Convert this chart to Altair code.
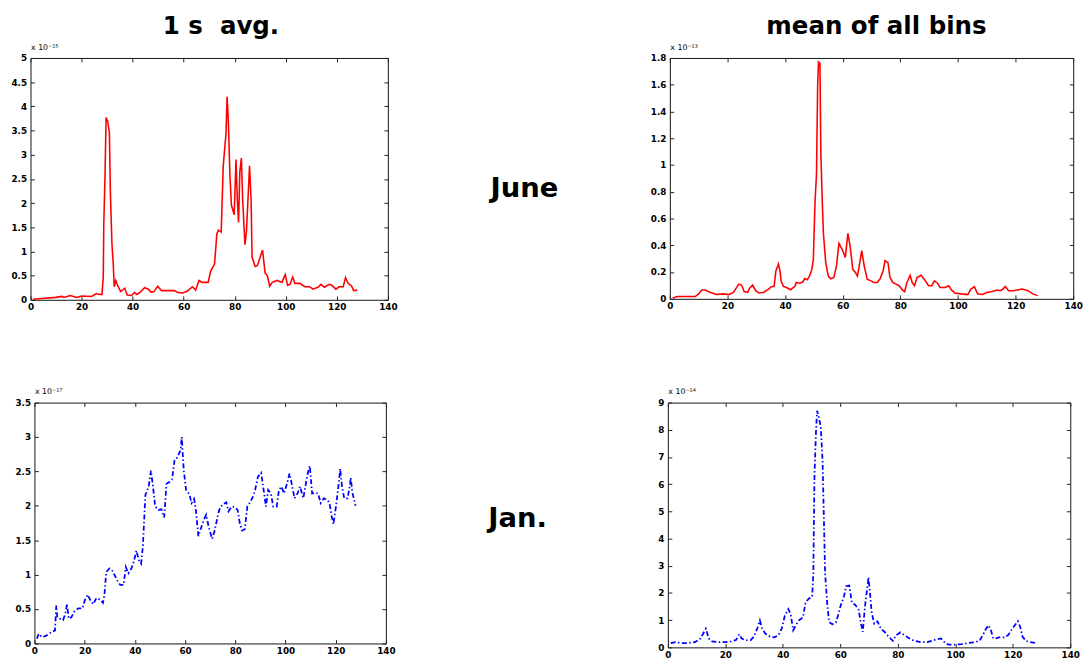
import altair as alt
import pandas as pd

FONT = "DejaVu Sans"

# ---------------- data (values in units of the axis exponent) ----------------
june_1s_x = [1, 9.8, 12.4, 13, 15.6, 18.1, 20, 23.9, 25.8, 27, 28, 28.5, 28.7, 29.2, 29.6, 30.2, 30.9, 31.3,
             31.9, 32.4, 32.8, 33.4, 34.1, 35.3, 36.9, 37.9, 39.6, 40.7, 41.7, 43, 44.7, 46.2, 47.2, 48.4,
             49.8, 51.3, 53.2, 56.4, 57.7, 59.6, 61.5, 63.4, 64.7, 66, 67.3, 69.6, 70.6, 72.1, 73, 73.6,
             74.7, 75.5, 76.6, 77, 77.5, 78.1, 78.7, 79.8, 80.5, 81, 81.5, 82, 82.6, 83.1, 83.6, 84, 84.6,
             85.4, 85.8, 86.4, 86.8, 88, 88.9, 90.9, 91.9, 92.8, 93.7, 94.7, 96.6, 98.5, 99.8, 100.7,
             101.7, 102.7, 103.6, 105.5, 107.5, 109.4, 110.6, 112.6, 113.8, 115.1, 117, 118, 119.6, 120.9,
             122.5, 123.4, 124.4, 125.7, 126.6, 128]
june_1s_y = [0.01, 0.05, 0.07, 0.05, 0.09, 0.05, 0.08, 0.07, 0.13, 0.11, 0.11, 0.47, 1.55, 2.6, 3.77, 3.7,
             3.45, 2.2, 1.15, 0.75, 0.27, 0.4, 0.3, 0.17, 0.24, 0.1, 0.09, 0.15, 0.11, 0.16, 0.25, 0.22,
             0.16, 0.17, 0.28, 0.19, 0.19, 0.19, 0.15, 0.14, 0.18, 0.27, 0.2, 0.4, 0.36, 0.36, 0.6, 0.74,
             1.36, 1.44, 1.4, 2.77, 3.45, 4.2, 3.7, 2.6, 1.96, 1.76, 2.9, 2.1, 1.6, 2.64, 2.93, 2.1, 1.55,
             1.14, 1.42, 2.3, 2.77, 2.1, 0.88, 0.69, 0.71, 1.03, 0.55, 0.5, 0.28, 0.36, 0.4, 0.36, 0.52,
             0.3, 0.32, 0.47, 0.34, 0.34, 0.27, 0.27, 0.22, 0.26, 0.32, 0.26, 0.32, 0.3, 0.22, 0.27, 0.27,
             0.46, 0.34, 0.29, 0.19, 0.2]

june_mean_x = [1, 2.6, 8.8, 10, 11.1, 12.2, 13.9, 16.2, 18.5, 20.7, 22.1, 23.2, 23.9, 24.9, 25.8, 27, 27.7,
               28.7, 29.8, 30.9, 32.6, 34.3, 35.2, 36.2, 36.8, 37.7, 38.3, 38.6, 39.4, 40.5, 41.9, 43.4,
               43.9, 45.1, 46.2, 46.8, 47.7, 48.5, 49.3, 49.8, 50.4, 50.9, 51.3, 51.6, 52.1, 52.4, 52.9,
               53.3, 54.1, 55, 55.8, 56.9, 57.8, 58.7, 59.8, 60.9, 61.8, 62.6, 63.5, 64.3, 65.1, 65.7,
               66.6, 67.5, 68.5, 69.8, 70.9, 72, 73, 74, 74.7, 75.7, 76.4, 77.4, 78.5, 79.6, 80.7, 81.5,
               82.2, 83.4, 84.1, 84.9, 85.8, 87.2, 88.3, 89.8, 90.9, 91.8, 92.9, 93.8, 95.5, 96.8, 97.7,
               98.9, 101.1, 103.4, 104.5, 105.7, 106.8, 108.5, 110.2, 111.9, 113.6, 114.7, 115.6, 116.4,
               117.6, 119.3, 121, 122.3, 124.3, 126, 127.7]
june_mean_y = [0.007, 0.017, 0.017, 0.037, 0.066, 0.066, 0.049, 0.032, 0.037, 0.032, 0.049, 0.085, 0.11,
               0.103, 0.054, 0.049, 0.08, 0.103, 0.061, 0.044, 0.049, 0.073, 0.09, 0.093, 0.208, 0.26,
               0.2, 0.134, 0.093, 0.085, 0.068, 0.093, 0.122, 0.117, 0.127, 0.151, 0.142, 0.171, 0.22,
               0.293, 0.73, 0.93, 1.59, 1.77, 1.76, 1.1, 0.73, 0.49, 0.27, 0.17, 0.15, 0.16, 0.24, 0.415,
               0.37, 0.31, 0.49, 0.39, 0.22, 0.2, 0.17, 0.24, 0.36, 0.24, 0.147, 0.134, 0.122, 0.122,
               0.151, 0.208, 0.286, 0.27, 0.16, 0.122, 0.11, 0.098, 0.066, 0.054, 0.117, 0.176, 0.122,
               0.098, 0.159, 0.176, 0.147, 0.098, 0.098, 0.134, 0.117, 0.085, 0.085, 0.098, 0.068, 0.044,
               0.037, 0.032, 0.073, 0.09, 0.037, 0.032, 0.049, 0.054, 0.066, 0.061, 0.073, 0.093, 0.061,
               0.061, 0.068, 0.073, 0.061, 0.037, 0.024]

jan_1s_x = [1, 1.7, 3, 4.5, 5.8, 7.1, 8.2, 8.7, 9.1, 10.1, 11.4, 12.3, 13, 13.6, 14.7, 16, 17.5, 19.1, 20.1,
            21.2, 22.1, 23.4, 24.7, 26, 27.3, 27.9, 28.6, 29.9, 31.2, 32.9, 34.2, 35.5, 36.4, 37.4, 38.6,
            39.6, 40.6, 41.6, 42.5, 43.2, 44.2, 45.5, 46.4, 47.1, 48.1, 49.4, 50.6, 51.7, 52.6, 53.9, 54.8,
            55.8, 56.5, 57.5, 58.2, 58.7, 59.1, 59.5, 60.4, 61.7, 62.6, 63.6, 64.3, 65.3, 66.2, 67.5, 68.4,
            69.5, 70.8, 71.8, 72.7, 73.6, 74.9, 76.4, 77.3, 78.6, 79.9, 80.9, 81.8, 82.7, 83.8, 84.8, 85.7,
            87, 87.9, 89, 90.3, 91.3, 92.2, 93.1, 94.2, 95.1, 96.5, 97.4, 98.4, 99.4, 100.6, 101.6, 102.6,
            103.6, 104.8, 105.8, 107.1, 108.1, 109.1, 109.7, 110.6, 111.9, 113, 114, 115.3, 116.6, 117.5,
            118.4, 119.1, 120.1, 121.2, 121.8, 122.5, 123.4, 124.7, 125.6, 126, 126.6, 127.9]
jan_1s_y = [0.07, 0.14, 0.09, 0.11, 0.14, 0.17, 0.19, 0.55, 0.38, 0.36, 0.34, 0.43, 0.58, 0.36, 0.38, 0.47,
            0.51, 0.51, 0.63, 0.71, 0.64, 0.57, 0.66, 0.64, 0.59, 0.71, 1.04, 1.09, 1.05, 0.92, 0.85, 0.85,
            1.11, 1.02, 1.09, 1.19, 1.35, 1.21, 1.16, 1.42, 2.16, 2.28, 2.51, 2.32, 1.99, 1.94, 1.95, 1.83,
            2.32, 2.35, 2.38, 2.66, 2.68, 2.75, 2.81, 3.0, 2.73, 2.51, 2.23, 2.17, 2.04, 2.1, 1.94, 1.56,
            1.66, 1.8, 1.87, 1.68, 1.52, 1.64, 1.8, 1.94, 2.02, 2.05, 1.92, 1.99, 1.98, 1.94, 1.75, 1.64,
            1.66, 1.99, 2.04, 2.13, 2.23, 2.42, 2.48, 2.23, 1.99, 2.23, 2.18, 1.99, 1.99, 2.23, 2.28, 2.18,
            2.32, 2.47, 2.3, 2.11, 2.18, 2.28, 2.11, 2.32, 2.51, 2.58, 2.18, 2.19, 2.18, 2.04, 2.11, 2.09,
            2.04, 1.85, 1.73, 1.99, 2.32, 2.54, 2.28, 2.11, 2.11, 2.28, 2.41, 2.2, 2.0]

jan_mean_x = [1, 2.6, 4.9, 7.2, 9.4, 11.1, 12.3, 13.2, 14.2, 15.4, 17.4, 19.7, 22, 23.7, 24.8, 25.6, 27.1,
              28.8, 29.9, 31.3, 32, 32.8, 33.9, 35.6, 37, 38.5, 39.6, 40.7, 41.9, 42.7, 43.6, 44.5, 45.6,
              47, 47.9, 49, 50.2, 50.6, 51, 51.5, 51.9, 52.4, 53.2, 53.8, 54.2, 54.7, 55.5, 56.1, 57.2,
              58.4, 59.2, 60.1, 61.3, 62, 63.1, 64, 65.1, 66.3, 67.2, 67.8, 68.6, 69.3, 69.8, 70.3, 70.9,
              71.8, 72.9, 74.1, 75.4, 76.8, 78.3, 79.4, 80.9, 82.3, 84, 85.7, 87.9, 90.2, 91.9, 93.6, 95,
              96.5, 97.6, 99.9, 102.2, 104.4, 106.7, 108.4, 109.6, 110.7, 111.6, 112.4, 113.2, 114.1,
              115.2, 117, 118.4, 119.8, 120.9, 121.8, 122.6, 123.4, 124.6, 126, 128]
jan_mean_y = [0.16, 0.19, 0.16, 0.16, 0.19, 0.3, 0.51, 0.69, 0.33, 0.22, 0.19, 0.19, 0.22, 0.27, 0.48, 0.33,
              0.26, 0.27, 0.39, 0.75, 0.99, 0.69, 0.51, 0.39, 0.37, 0.45, 0.69, 1.17, 1.41, 1.23, 0.63,
              0.81, 0.99, 1.11, 1.65, 1.79, 1.86, 2.72, 6.31, 7.86, 8.7, 8.52, 8.1, 6.9, 5.11, 2.72, 1.53,
              0.93, 0.85, 0.91, 1.17, 1.53, 1.89, 2.25, 2.27, 1.65, 1.57, 1.41, 0.87, 0.57, 1.53, 2.13,
              2.58, 2.01, 1.29, 0.87, 0.96, 0.69, 0.57, 0.39, 0.24, 0.45, 0.55, 0.45, 0.33, 0.24, 0.19,
              0.19, 0.24, 0.3, 0.33, 0.16, 0.1, 0.1, 0.12, 0.16, 0.19, 0.24, 0.45, 0.69, 0.81, 0.63, 0.33,
              0.33, 0.37, 0.37, 0.45, 0.69, 0.84, 0.96, 0.75, 0.39, 0.24, 0.19, 0.16]

x_ticks = [0, 20, 40, 60, 80, 100, 120, 140]
y_ticks_june_1s = [0, 0.5, 1, 1.5, 2, 2.5, 3, 3.5, 4, 4.5, 5]
y_ticks_june_mean = [0, 0.2, 0.4, 0.6, 0.8, 1, 1.2, 1.4, 1.6, 1.8]
y_ticks_jan_1s = [0, 0.5, 1, 1.5, 2, 2.5, 3, 3.5]
y_ticks_jan_mean = [0, 1, 2, 3, 4, 5, 6, 7, 8, 9]

exp_june_1s = "x 10\u207b\u00b9\u2075"
exp_june_mean = "x 10\u207b\u00b9\u00b3"
exp_jan_1s = "x 10\u207b\u00b9\u2077"
exp_jan_mean = "x 10\u207b\u00b9\u2074"

col_titles = ["1 s\u00a0 avg.", "mean of all bins"]
row_labels = ["June", "Jan."]

RED = "#ff0000"
BLUE = "#0000ff"
Y_EXTENT = 24


def panel(xs, ys, yticks, exp, color, dashed, w, h, title=None, title_dx=0):
    df = pd.DataFrame({"x": xs, "y": ys})
    xsc = alt.Scale(domain=[x_ticks[0], x_ticks[-1]], nice=False, zero=False)
    ysc = alt.Scale(domain=[yticks[0], yticks[-1]], nice=False, zero=False)
    common = dict(tickSize=4, offset=-4, domain=False, grid=False, tickColor="#222",
                  tickWidth=1, labelFont=FONT, labelFontSize=9, labelFontWeight="bold",
                  labelColor="black", labelFlush=False)
    x_bottom = alt.Axis(values=x_ticks, orient="bottom", labelPadding=3, title=None,
                        labelOverlap=False, **common)
    y_left = alt.Axis(values=yticks, orient="left", labelPadding=4, title=exp, format="~g",
                      titleAngle=0, titleAlign="left", titleBaseline="bottom",
                      titleX=-4, titleY=-7, titleFont=FONT, titleFontSize=8,
                      titleFontWeight="normal", titleColor="black", minExtent=Y_EXTENT,
                      labelOverlap=False, **common)
    x_top = alt.Axis(values=x_ticks, orient="top", labels=False, title=None, **common)
    y_right = alt.Axis(values=yticks, orient="right", labels=False, title=None, **common)

    frame = alt.Chart(df).mark_line(strokeOpacity=0).encode(
        x=alt.X("x:Q", scale=xsc, axis=x_top),
        y=alt.Y("y:Q", scale=ysc, axis=y_right),
    )
    mk = dict(color=color, strokeWidth=1.6 if not dashed else 1.8)
    if dashed:
        mk["strokeDash"] = [5, 2.5, 1.5, 2.5]
    line = alt.Chart(df).mark_line(**mk).encode(
        x=alt.X("x:Q", scale=xsc, axis=x_bottom),
        y=alt.Y("y:Q", scale=ysc, axis=y_left),
    )
    ch = alt.layer(frame, line).resolve_axis(x="independent", y="independent").properties(
        width=w, height=h, view=alt.ViewBackground(stroke="#111", strokeWidth=1)
    )
    if title is not None:
        ch = ch.properties(title=alt.TitleParams(text=title, font=FONT, fontSize=25,
                                                 fontWeight="bold", color="black",
                                                 anchor="middle", offset=4, dx=title_dx))
    return ch


def label_chart(text, w, h, dx, dy):
    return alt.Chart(pd.DataFrame({"label": [text]})).mark_text(
        font=FONT, fontSize=28, fontWeight="bold", color="black", dx=dx, dy=dy
    ).encode(text="label:N").properties(
        width=w, height=h, view=alt.ViewBackground(strokeOpacity=0)
    )


def spacer(w):
    return alt.Chart(pd.DataFrame({"v": [0]})).mark_point(opacity=0).properties(
        width=w, height=10, view=alt.ViewBackground(strokeOpacity=0)
    )


p1 = panel(june_1s_x, june_1s_y, y_ticks_june_1s, exp_june_1s, RED, False, 365, 247,
           col_titles[0], title_dx=12)
p2 = panel(june_mean_x, june_mean_y, y_ticks_june_mean, exp_june_mean, RED, False, 412, 246,
           col_titles[1], title_dx=5)
p3 = panel(jan_1s_x, jan_1s_y, y_ticks_jan_1s, exp_jan_1s, BLUE, True, 359, 246)
p4 = panel(jan_mean_x, jan_mean_y, y_ticks_jan_mean, exp_jan_mean, BLUE, True, 411, 250)

m1 = label_chart(row_labels[0], 257, 247, 1, 11)
m2 = label_chart(row_labels[1], 257, 246, -4, -4)

top = alt.hconcat(spacer(1), p1, m1, p2, spacing=0)
bottom = alt.hconcat(spacer(8), p3, m2, p4, spacing=0)
chart = alt.vconcat(top, bottom, spacing=76).properties(
    padding={"left": -5, "top": -1, "right": 0, "bottom": 0}
).configure(font=FONT)

chart.save("out.html", embed_options={"renderer": "svg", "actions": False})
